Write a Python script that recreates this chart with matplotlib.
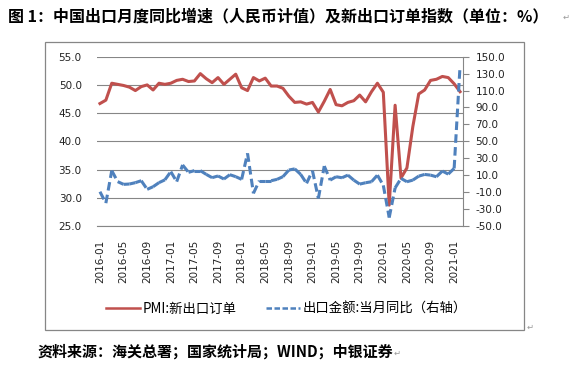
import matplotlib
matplotlib.use("Agg")
import matplotlib.pyplot as plt
from matplotlib.collections import LineCollection
from matplotlib.lines import Line2D
from matplotlib.patches import Rectangle
import numpy as np
import pandas as pd

# monthly data 2016-01 .. 2021-02
months = pd.date_range("2016-01", periods=62, freq="MS").strftime("%Y-%m").tolist()

pmi_new_export = [
    46.7, 47.3, 50.3, 50.1, 49.9, 49.6, 49.0, 49.7, 50.0, 49.1, 50.3, 50.1,
    50.3, 50.8, 51.0, 50.6, 50.7, 52.0, 51.1, 50.4, 51.3, 50.1, 51.0, 51.9,
    49.5, 49.0, 51.3, 50.7, 51.2, 49.8, 49.8, 49.4, 48.0, 46.9, 47.0, 46.6,
    46.9, 45.2, 47.1, 49.2, 46.5, 46.3, 46.9, 47.2, 48.2, 47.0, 48.8, 50.3,
    48.7, 28.7, 46.4, 33.5, 35.3, 42.6, 48.4, 49.1, 50.8, 51.0, 51.5, 51.3,
    50.2, 48.8,
]

export_yoy = [
    -9.5, -23.0, 15.4, 2.4, -0.8, -0.4, 1.2, 3.5, -6.7, -3.6, 1.2, 4.5,
    14.2, 2.4, 22.1, 13.4, 15.4, 15.4, 11.0, 7.1, 9.1, 5.5, 10.6, 8.3,
    5.1, 35.8, -11.4, 3.5, 3.5, 3.5, 5.1, 8.3, 16.1, 17.5, 11.0, 0.4,
    15.3, -17.4, 20.8, 4.2, 8.2, 7.0, 10.1, 4.2, -0.5, 1.1, 2.3, 10.1,
    -2.0, -40.0, -5.0, 6.2, 2.3, 4.2, 8.9, 10.9, 10.1, 8.2, 14.9, 11.3,
    18.0, 139.0,
]

left_ticks = [25, 30, 35, 40, 45, 50, 55]
right_ticks = [-50, -30, -10, 10, 30, 50, 70, 90, 110, 130, 150]

title = "图 1：中国出口月度同比增速（人民币计值）及新出口订单指数（单位：%）"
source = "资料来源：海关总署；国家统计局；WIND；中银证券"
label_pmi = "PMI:新出口订单"
label_exp = "出口金额:当月同比（右轴）"
para_mark = "↵"

RED = "#C0504D"
BLUE = "#4F81BD"
GRID = "#868686"
CJK = ["Noto Sans CJK SC", "DejaVu Sans"]

fig = plt.figure(figsize=(5.72, 3.70), dpi=100)
ax = fig.add_axes([97 / 572, 1 - 226 / 370, 366 / 572, (226 - 56.7) / 370])
ax2 = ax.twinx()

x = np.arange(len(months))

# left axis: PMI
ax.plot(x, pmi_new_export, color=RED, lw=2.2, solid_joinstyle="round", zorder=3)
ax.set_ylim(25, 55)
ax.set_yticks(left_ticks)
ax.set_yticklabels(["%.1f" % v for v in left_ticks])
ax.set_xlim(-0.5, len(months) - 0.5)
ax.set_xticks(x[::4])
ax.set_xticklabels(months[::4], rotation=90)
ax.grid(axis="y", color=GRID, lw=0.8)
ax.set_axisbelow(True)
ax.tick_params(axis="y", length=0, pad=11, labelsize=7.5, labelcolor="#222222")
ax.tick_params(axis="x", length=0, pad=10, labelsize=7.5, labelcolor="#222222")
for s in ["left", "top", "right"]:
    ax.spines[s].set_visible(False)
ax.spines["bottom"].set_color(GRID)
ax.spines["bottom"].set_linewidth(0.8)

# right axis: exports, dashes restart on every segment like Excel does
pts = np.column_stack([x, export_yoy])
segs = np.stack([pts[:-1], pts[1:]], axis=1)
lc = LineCollection(segs, colors=BLUE, linewidths=2.2,
                    linestyles=[(0, (2.8, 1.4))], capstyle="butt")
ax2.add_collection(lc)
ax2.set_ylim(-50, 150)
ax2.set_yticks(right_ticks)
ax2.set_yticklabels(["%.1f" % v for v in right_ticks])
ax2.tick_params(axis="y", length=4, width=0.8, color=GRID, pad=5,
                labelsize=7.5, labelcolor="#222222")
for s in ["left", "top", "bottom"]:
    ax2.spines[s].set_visible(False)
ax2.spines["right"].set_color(GRID)
ax2.spines["right"].set_linewidth(0.8)

# legend
handles = [Line2D([], [], color=RED, lw=1.8),
           Line2D([], [], color=BLUE, lw=1.8, linestyle=(0, (2.2, 1.0)))]
fig.legend(handles, [label_pmi, label_exp], loc="center",
           bbox_to_anchor=(0.50, 1 - 309 / 370), ncol=2, frameon=False,
           handlelength=2.6, handletextpad=0.15, columnspacing=2.2,
           prop={"family": CJK, "size": 9.6})

# outer chart frame
fig.patches.append(Rectangle((44.7 / 572, 1 - 330 / 370), (524 - 44.7) / 572,
                             (330 - 41.7) / 370, transform=fig.transFigure,
                             fill=False, edgecolor=GRID, lw=0.9))

fig.text(8 / 572, 1 - 16 / 370, title, family=CJK, weight="bold",
         fontsize=11.5, va="center", ha="left")
fig.text(37 / 572, 1 - 352 / 370, source, family=CJK, weight="bold",
         fontsize=10.8, va="center", ha="left")

# small paragraph marks as in the source document
fig.text(563 / 572, 1 - 17 / 370, para_mark, fontsize=6, color="#999999",
         va="center", ha="left")
fig.text(527 / 572, 1 - 327 / 370, para_mark, fontsize=6, color="#999999",
         va="center", ha="left")
fig.text(394 / 572, 1 - 353 / 370, para_mark, fontsize=6, color="#999999",
         va="center", ha="left")

fig.savefig("out.png", dpi=100)
